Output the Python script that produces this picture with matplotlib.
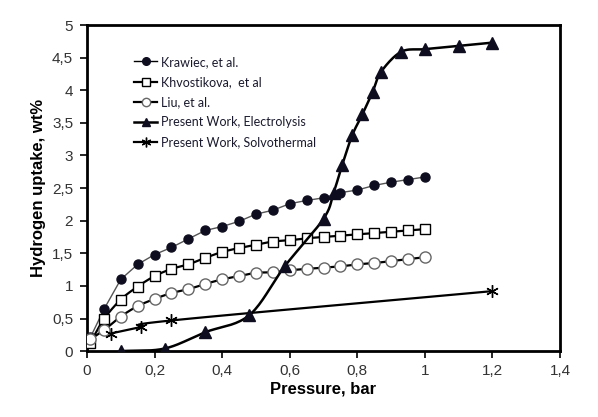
import numpy as np
import matplotlib
matplotlib.use("Agg")
import matplotlib.pyplot as plt
from matplotlib.ticker import FuncFormatter, MultipleLocator

plt.rcParams["font.family"] = ["Liberation Sans", "DejaVu Sans"]

# ---- data ---------------------------------------------------------------
p_grid = [0.01, 0.05, 0.10, 0.15, 0.20, 0.25, 0.30, 0.35, 0.40, 0.45, 0.50,
          0.55, 0.60, 0.65, 0.70, 0.75, 0.80, 0.85, 0.90, 0.95, 1.00]
krawiec = [0.21, 0.64, 1.10, 1.33, 1.48, 1.59, 1.72, 1.85, 1.91, 1.99, 2.10,
           2.16, 2.26, 2.31, 2.35, 2.43, 2.47, 2.54, 2.59, 2.63, 2.67]
khvostikova = [0.13, 0.49, 0.79, 0.99, 1.15, 1.26, 1.33, 1.43, 1.52, 1.58, 1.63,
               1.68, 1.70, 1.73, 1.75, 1.77, 1.79, 1.81, 1.83, 1.85, 1.87]
liu = [0.18, 0.32, 0.53, 0.69, 0.80, 0.89, 0.95, 1.03, 1.10, 1.15, 1.20,
       1.21, 1.24, 1.26, 1.28, 1.30, 1.33, 1.35, 1.38, 1.41, 1.44]

elec_p = [0.10, 0.23, 0.35, 0.48, 0.585, 0.70, 0.73, 0.755, 0.785, 0.815,
          0.845, 0.87, 0.93, 1.00, 1.10, 1.20]
elec_w = [0.00, 0.04, 0.29, 0.55, 1.30, 2.03, 2.43, 2.85, 3.31, 3.63,
          3.97, 4.28, 4.59, 4.63, 4.68, 4.73]

solvo_p = [0.07, 0.16, 0.25, 1.20]
solvo_w = [0.27, 0.37, 0.47, 0.92]

labels = ["Krawiec, et al.", "Khvostikova,  et al", "Liu, et al.",
          "Present Work, Electrolysis", "Present Work, Solvothermal"]


def smooth(x, y, n=20):
    """Catmull-Rom path through the points (Excel-style smoothed line)."""
    x = np.asarray(x, float)
    y = np.asarray(y, float)
    if len(x) < 3:
        return x, y
    px = np.concatenate([[2 * x[0] - x[1]], x, [2 * x[-1] - x[-2]]])
    py = np.concatenate([[2 * y[0] - y[1]], y, [2 * y[-1] - y[-2]]])
    t = np.linspace(0, 1, n)[:, None]
    xs, ys = [], []
    for i in range(1, len(px) - 2):
        for arr, out in ((px, xs), (py, ys)):
            p0, p1, p2, p3 = arr[i - 1], arr[i], arr[i + 1], arr[i + 2]
            seg = 0.5 * ((2 * p1) + (-p0 + p2) * t
                         + (2 * p0 - 5 * p1 + 4 * p2 - p3) * t ** 2
                         + (-p0 + 3 * p1 - 3 * p2 + p3) * t ** 3)
            out.append(seg.ravel())
    return np.concatenate(xs), np.concatenate(ys)


fig = plt.figure(figsize=(5.98, 4.17), dpi=100)
ax = fig.add_axes([0.1455, 0.158, 0.791, 0.782])

navy = "#0d0d1f"

# Krawiec: thin straight grey line, filled dots
ax.plot(p_grid, krawiec, color="#555555", lw=1.0, zorder=3)
ax.plot(p_grid, krawiec, ls="none", marker="o", ms=6.5, mfc=navy, mec=navy, zorder=4)

# Khvostikova: smoothed black line, open squares
sx, sy = smooth(p_grid, khvostikova)
ax.plot(sx, sy, color="black", lw=1.6, zorder=3)
ax.plot(p_grid, khvostikova, ls="none", marker="s", ms=7.5, mfc="white",
        mec="black", mew=1.0, zorder=4)

# Liu: smoothed black line, open grey circles
sx, sy = smooth(p_grid, liu)
ax.plot(sx, sy, color="black", lw=1.6, zorder=3)
ax.plot(p_grid, liu, ls="none", marker="o", ms=8, mfc="white",
        mec="#666666", mew=1.0, zorder=4)

# Electrolysis: smoothed line, filled triangles
sx, sy = smooth(elec_p, elec_w)
ax.plot(sx, sy, color="black", lw=1.8, zorder=5)
ax.plot(elec_p, elec_w, ls="none", marker="^", ms=8.5, mfc=navy, mec=navy, zorder=6)

# Solvothermal: line with asterisks
sx, sy = smooth(solvo_p, solvo_w)
ax.plot(sx, sy, color="black", lw=1.6, zorder=3)
ax.plot(solvo_p, solvo_w, ls="none", marker=(6, 2, 0), ms=9, mec="black",
        mew=1.0, zorder=4)

# legend built from proxy artists
handles = [
    plt.Line2D([], [], color="black", lw=1.0, marker="o", ms=5.5, mfc=navy, mec=navy),
    plt.Line2D([], [], color="black", lw=1.6, marker="s", ms=6, mfc="white", mec="black"),
    plt.Line2D([], [], color="black", lw=1.6, marker="o", ms=6, mfc="white", mec="#666666"),
    plt.Line2D([], [], color="black", lw=1.8, marker="^", ms=6, mfc=navy, mec=navy),
    plt.Line2D([], [], color="black", lw=1.6, marker=(6, 2, 0), ms=7, mec="black"),
]
leg = ax.legend(handles, labels, loc="upper left", bbox_to_anchor=(0.075, 0.94),
                frameon=False, handlelength=1.9, handletextpad=0.25,
                labelspacing=0.65, prop={"family": "Lato", "size": 9})
for t in leg.get_texts():
    t.set_color("#1a1a2e")

ax.set_xlim(0, 1.4)
ax.set_ylim(0, 5)
ax.xaxis.set_major_locator(MultipleLocator(0.2))
ax.yaxis.set_major_locator(MultipleLocator(0.5))
comma = FuncFormatter(lambda v, pos: f"{v:g}".replace(".", ","))
ax.xaxis.set_major_formatter(comma)
ax.yaxis.set_major_formatter(comma)
ax.tick_params(direction="out", length=5, width=1.2, labelsize=11,
               labelcolor="#333333", pad=4)
ax.tick_params(axis="y", pad=5)
for s in ax.spines.values():
    s.set_linewidth(2.0)

ax.set_xlabel("Pressure, bar", fontsize=12, fontweight="bold", labelpad=3)
ax.set_ylabel("Hydrogen uptake, wt%", fontsize=12, fontweight="bold", labelpad=4)

fig.savefig("out.png", dpi=100)
